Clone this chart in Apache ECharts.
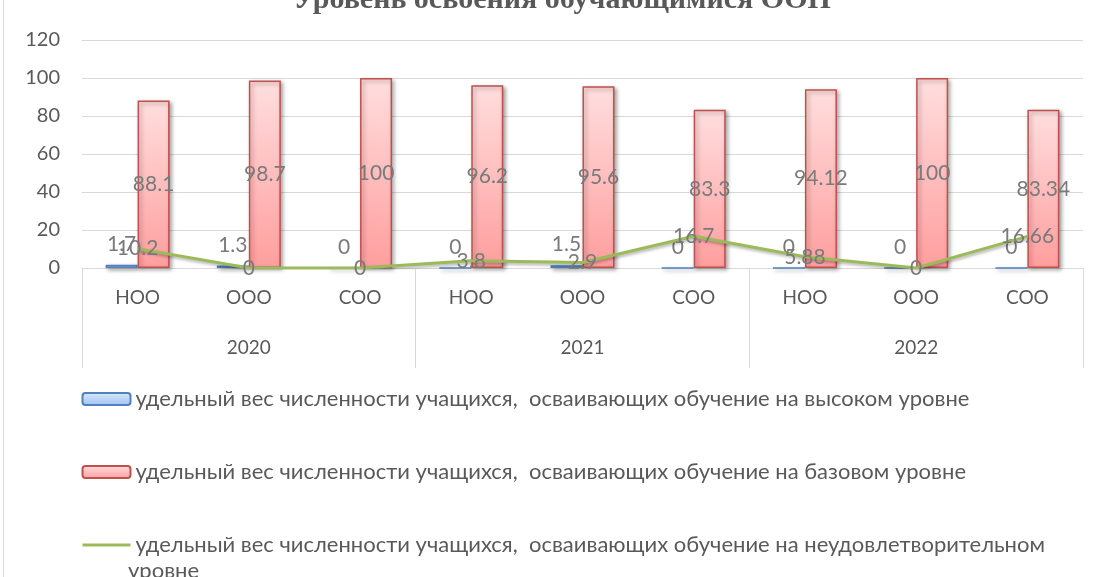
<!DOCTYPE html>
<html><head><meta charset="utf-8">
<script src="https://cdn.jsdelivr.net/npm/echarts@6/dist/echarts.min.js"></script>
<style>html,body{margin:0;padding:0;background:#fff}#c{width:1099px;height:577px}</style>
</head><body><div id="c"></div>
<script>
const titleText = 'Уровень освоения обучающимися ООП';
const levels = ['НОО','ООО','СОО','НОО','ООО','СОО','НОО','ООО','СОО'];
const years = ['2020','2021','2022'];
const sHigh = 'удельный вес численности учащихся,  осваивающих обучение на высоком уровне';
const sBase = 'удельный вес численности учащихся,  осваивающих обучение на базовом уровне';
const sLow = 'удельный вес численности учащихся,  осваивающих обучение на неудовлетворительном уровне';
const highVals = [1.7, 1.3, 0, 0, 1.5, 0, 0, 0, 0];
const baseVals = [88.1, 98.7, 100, 96.2, 95.6, 83.3, 94.12, 100, 83.34];
const lowVals = [10.2, 0, 0, 3.8, 2.9, 16.7, 5.88, 0, 16.66];
const yTicks = {min: 0, max: 120, interval: 20};

const FONT = 'Lato';
const TXT = '#595959';
const LBL = '#7a7a7a';
const shadow = {shadowBlur: 4, shadowColor: 'rgba(0,0,0,0.35)', shadowOffsetX: 2, shadowOffsetY: 2};
const grad = (a, b) => ({type: 'linear', x: 0, y: 0, x2: 0, y2: 1, colorStops: [{offset: 0, color: a}, {offset: 1, color: b}]});

const chart = echarts.init(document.getElementById('c'));
chart.setOption({
  animation: false,
  textStyle: {fontFamily: FONT},
  graphic: [
    {type: 'rect', shape: {x: 3.5, y: -20, width: 1200, height: 700}, style: {fill: 'none', stroke: '#d9d9d9', lineWidth: 1}, silent: true, z: -10},
    {type: 'text', x: 562, y: 15, style: {text: titleText, font: 'bold 30px "Liberation Serif"', fill: TXT, textAlign: 'center', textVerticalAlign: 'bottom'}},
    {type: 'text', x: 128, y: 571, style: {text: 'уровне', font: '22px ' + FONT, fill: TXT, textAlign: 'left', textVerticalAlign: 'middle'}}
  ],
  grid: {left: 82, right: 16, top: 40, height: 228, containLabel: false},
  legend: {
    orient: 'vertical', left: 76, top: 383, itemGap: 51, itemWidth: 48, itemHeight: 12,
    textStyle: {fontSize: 22, color: TXT, fontFamily: FONT},
    formatter: n => n === sLow ? n.replace(/ уровне$/, '') : n,
    data: [sHigh, sBase, {name: sLow, itemStyle: {color: 'rgba(0,0,0,0)', borderWidth: 0, opacity: 0}, lineStyle: {width: 3, color: '#9bbb59'}}]
  },
  xAxis: [
    {type: 'category', data: levels, position: 'bottom',
     axisLine: {show: true, lineStyle: {color: '#d9d9d9', width: 1}},
     axisTick: {show: false},
     axisLabel: {color: TXT, fontSize: 19, margin: 20, fontFamily: FONT, interval: 0}},
    {type: 'category', data: years, position: 'bottom', offset: 0,
     axisLine: {show: false},
     axisTick: {show: true, length: 100, lineStyle: {color: '#d9d9d9'}},
     axisLabel: {color: TXT, fontSize: 19, margin: 70, fontFamily: FONT}}
  ],
  yAxis: {type: 'value', min: yTicks.min, max: yTicks.max, interval: yTicks.interval,
    axisLine: {show: false}, axisTick: {show: false},
    axisLabel: {color: TXT, fontSize: 20, margin: 22, fontFamily: FONT},
    splitLine: {lineStyle: {color: '#d9d9d9', width: 1}}},
  series: [
    {name: sHigh, type: 'bar', data: highVals, barWidth: 32, barGap: '0%',
     itemStyle: Object.assign({color: grad('#dde9fb', '#9cc2f3'), borderColor: '#4f81bd', borderWidth: 1.5}, shadow),
     label: {show: true, position: 'top', distance: 10, color: LBL, fontSize: 21, fontFamily: FONT}},
    {name: sBase, type: 'bar', data: baseVals, barWidth: 32,
     itemStyle: Object.assign({color: grad('#ffdede', '#ff9e9e'), borderColor: '#c0504d', borderWidth: 1.5}, shadow),
     label: {show: true, position: 'inside', color: LBL, fontSize: 21, fontFamily: FONT}},
    {name: sLow, type: 'line', data: lowVals, symbol: 'circle', symbolSize: 0,
     lineStyle: {color: '#9bbb59', width: 3, shadowBlur: 3, shadowColor: 'rgba(0,0,0,0.3)', shadowOffsetX: 1, shadowOffsetY: 2},
     itemStyle: {color: '#9bbb59'},
     label: {show: true, position: 'inside', color: LBL, fontSize: 21, fontFamily: FONT}, z: 5}
  ]
});
</script></body></html>
